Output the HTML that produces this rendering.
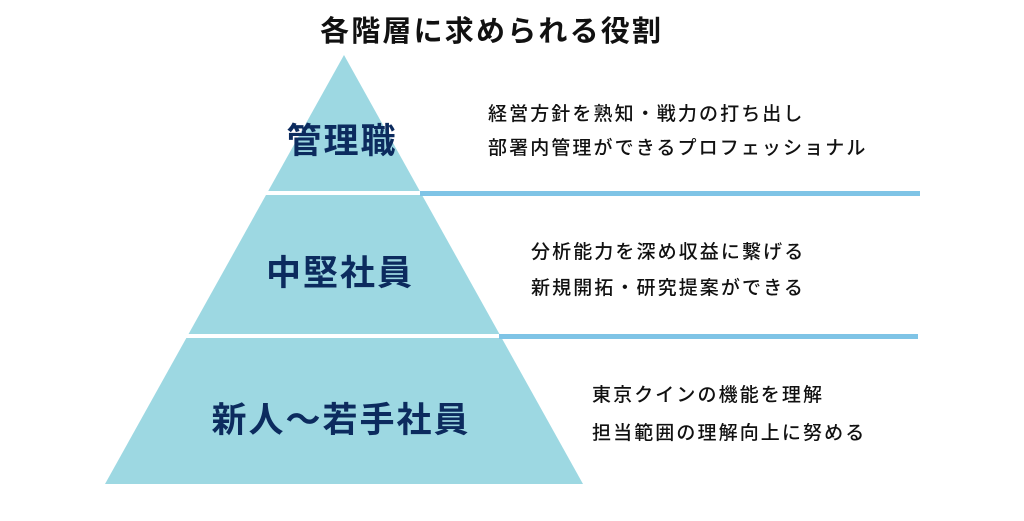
<!DOCTYPE html>
<html><head><meta charset="utf-8"><style>
body{margin:0;width:1024px;height:521px;background:#fff;position:relative;overflow:hidden;font-family:"Liberation Sans","Noto Sans CJK JP",sans-serif}
.t{position:absolute;white-space:nowrap}
.lab{color:#0c2b5e;font-weight:bold;font-size:35px;letter-spacing:2px;transform:translateX(-50%)}
.r{font-size:19px;color:#111;font-weight:500;letter-spacing:2.1px}
</style></head><body>
<svg width="1024" height="521" style="position:absolute;left:0;top:0">
<polygon points="344,55 583,484 105,484" fill="#9dd8e2"/>
<rect x="100" y="191" width="420" height="4" fill="#fff"/>
<rect x="100" y="334" width="420" height="4" fill="#fff"/>
<rect x="420" y="191" width="500" height="5" fill="#7fc4e6"/>
<rect x="499" y="334" width="419" height="5" fill="#7fc4e6"/>
</svg>
<div class="t" style="left:320px;top:8px;font-size:29px;letter-spacing:2.2px;font-weight:bold;color:#111">各階層に求められる役割</div>
<div class="t lab" style="left:342px;top:113px">管理職</div>
<div class="t lab" style="left:340px;top:245px">中堅社員</div>
<div class="t lab" style="left:341px;top:392px">新人〜若手社員</div>
<div class="t r" style="left:488px;top:99px">経営方針を熟知・戦力の打ち出し</div>
<div class="t r" style="left:488px;top:133px">部署内管理ができるプロフェッショナル</div>
<div class="t r" style="left:531px;top:237px">分析能力を深め収益に繋げる</div>
<div class="t r" style="left:531px;top:273px">新規開拓・研究提案ができる</div>
<div class="t r" style="left:592px;top:380px">東京クインの機能を理解</div>
<div class="t r" style="left:592px;top:418px">担当範囲の理解向上に努める</div>
</body></html>
